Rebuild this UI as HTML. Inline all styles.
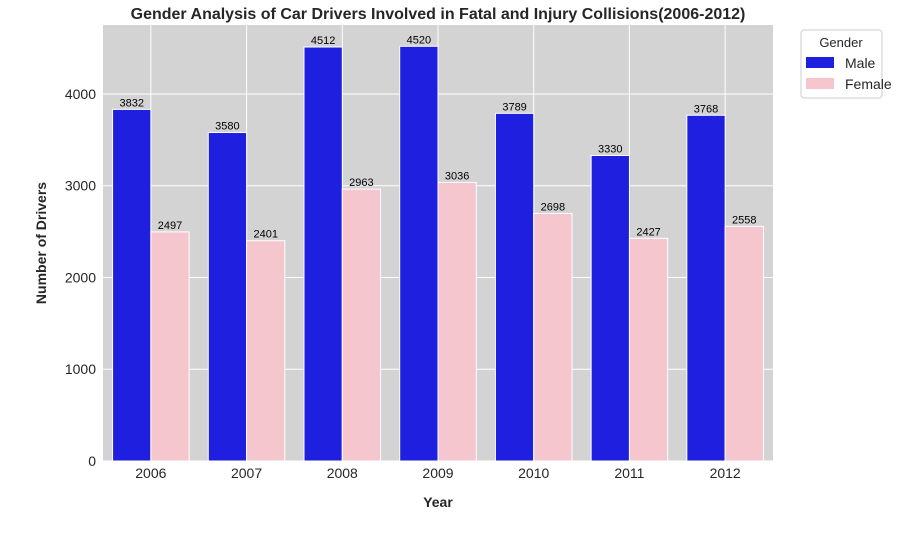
<!DOCTYPE html>
<html><head><meta charset="utf-8"><style>
body{margin:0;background:#fff;font-family:"Liberation Sans",Arial,sans-serif;}
svg text{font-family:"Liberation Sans",Arial,sans-serif;}
</style></head><body>
<svg id="chart" width="917" height="537" xmlns="http://www.w3.org/2000/svg">
<rect x="103" y="25" width="670" height="436" fill="#d3d3d3"/>
<g id="grid"></g>
<g id="bars"></g>
<g id="labels"></g>
<g id="axes"></g>
<text x="438" y="19" text-anchor="middle" font-size="16" font-weight="bold" fill="#262626">Gender Analysis of Car Drivers Involved in Fatal and Injury Collisions(2006-2012)</text>
<text x="438" y="507" text-anchor="middle" font-size="14" font-weight="bold" fill="#262626">Year</text>
<text transform="translate(46,243) rotate(-90)" text-anchor="middle" font-size="14" font-weight="bold" fill="#262626">Number of Drivers</text>
<g>
<rect x="801" y="30" width="81" height="68" rx="3" fill="#fff" stroke="#ccc"/>
<text x="841" y="47" text-anchor="middle" font-size="13" fill="#262626">Gender</text>
<rect x="806" y="57" width="28" height="11" fill="#1f1fe0"/>
<text x="845" y="68" font-size="14" fill="#262626">Male</text>
<rect x="806" y="78" width="28" height="11" fill="#f6c6cf"/>
<text x="845" y="89" font-size="14" fill="#262626">Female</text>
</g>
</svg>
<script>
const years = ["2006","2007","2008","2009","2010","2011","2012"];
const male = [3832,3580,4512,4520,3789,3330,3768];
const female = [2497,2401,2963,3036,2698,2427,2558];
const yTicks = [0,1000,2000,3000,4000];
const NS="http://www.w3.org/2000/svg";
const L=103,R=773,T=25,B=461,YMAX=4752;
const band=(R-L)/years.length;
const y=v=>B-v/YMAX*(B-T);
const xc=i=>L+band*(i+0.5);
function mk(tag,attrs,parent,txt){const e=document.createElementNS(NS,tag);for(const k in attrs)e.setAttribute(k,attrs[k]);if(txt!==undefined)e.textContent=txt;document.getElementById(parent).appendChild(e);return e;}
yTicks.forEach(t=>{
  const g=mk("line",{x1:L,x2:R,y1:y(t),y2:y(t),stroke:"#fff","stroke-width":1},"grid");
  
  
  const lb=mk("text",{x:L-7,y:y(t)+5,"text-anchor":"end","font-size":14,fill:"#262626"},"axes",t);
  
  
});
years.forEach((yr,i)=>{
  const g=mk("line",{x1:xc(i),x2:xc(i),y1:T,y2:B,stroke:"#fff","stroke-width":1},"grid");
  
  
  const lb=mk("text",{x:xc(i),y:B+17,"text-anchor":"middle","font-size":14,fill:"#262626"},"axes",yr);
  
  
});
const bw=band*0.4;
[[male,"#1f1fe0",-1,"male"],[female,"#f6c6cf",0,"female"]].forEach(([arr,col,off,nm])=>{
  arr.forEach((v,i)=>{
    const x0=xc(i)+off*bw;
    const r=mk("rect",{x:x0,y:y(v),width:bw,height:B-y(v),fill:col,stroke:"#fff","stroke-width":1},"bars");
    
    
    const t=mk("text",{x:x0+bw/2,y:y(v)-3,"text-anchor":"middle","font-size":11,fill:"#000"},"labels",v);
    
    
  });
});
</script>
</body></html>
